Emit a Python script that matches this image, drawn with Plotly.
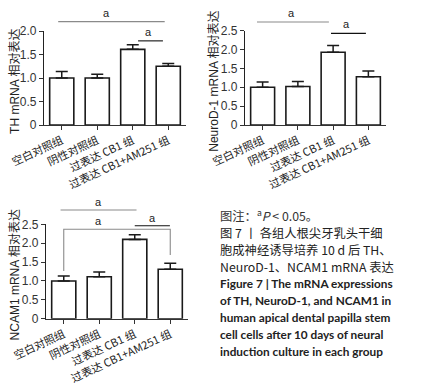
import plotly.graph_objects as go

W, H = 430, 391

# ---------------- data ----------------
groups = ["空白对照组", "阴性对照组", "过表达 CB1 组", "过表达 CB1+AM251 组"]

th_mean = [1.00, 1.00, 1.61, 1.25]
th_err = [0.14, 0.08, 0.10, 0.06]

neurod_mean = [1.00, 1.02, 1.93, 1.28]
neurod_err = [0.14, 0.13, 0.18, 0.15]

ncam_mean = [1.00, 1.11, 2.10, 1.31]
ncam_err = [0.13, 0.13, 0.12, 0.16]

th_ticks = [0, 0.5, 1.0, 1.5, 2.0]
th_ticktext = ["0", "0.5", "1.0", "1.5", "2.0"]
big_ticks = [0, 0.5, 1.0, 1.5, 2.0, 2.5]
big_ticktext = ["0", "0.5", "1.0", "1.5", "2.0", "2.5"]

th_title = "TH mRNA 相对表达"
neurod_title = "NeuroD-1 mRNA 相对表达"
ncam_title = "NCAM1 mRNA 相对表达"

caption_cn = [
    "图注：<sup>a</sup><i>P</i> &lt; 0.05。",
    "图 7 丨 各组人根尖牙乳头干细",
    "胞成神经诱导培养 10 d 后 TH、",
    "NeuroD-1、NCAM1 mRNA 表达",
]
caption_en = [
    "Figure 7 | The mRNA expressions",
    "of TH, NeuroD-1, and NCAM1 in",
    "human apical dental papilla stem",
    "cell cells after 10 days of neural",
    "induction culture in each group",
]

# significance marks: (x0, x1, y, colour) in category/value units
th_sig = [(-0.1, 2.9, 2.20, "#8a8a8a"), (2.15, 2.85, 1.79, "#111111")]
th_sig_lbl = [(1.25, 2.38), (2.43, 1.98)]
neurod_sig = [(-0.16, 1.88, 2.73, "#8a8a8a"), (1.94, 2.93, 2.43, "#111111")]
neurod_sig_lbl = [(0.83, 2.97), (2.39, 2.67)]
ncam_sig = [(-0.09, 2.05, 2.88, "#8a8a8a"), (2.0, 2.99, 2.46, "#111111")]
ncam_sig_lbl = [(0.99, 3.09), (0.99, 2.59), (2.49, 2.68)]
ncam_bracket = [(0.0, 1.26), (0.0, 2.37), (3.0, 2.37), (3.0, 1.69)]

# ---------------- layout helpers ----------------
FONT = "Liberation Sans, Noto Sans CJK SC, sans-serif"
CJK = "Noto Sans CJK SC, sans-serif"


def px_x(p):
    return p / W


def px_y(p):
    return 1 - p / H


panels = [
    ("", (44, 186), (125, 31), th_mean, th_err, 2.0, th_ticks, th_ticktext,
     th_title, 15, th_sig, th_sig_lbl),
    ("2", (245, 386), (125, 30.7), neurod_mean, neurod_err, 2.5, big_ticks,
     big_ticktext, neurod_title, 214, neurod_sig, neurod_sig_lbl),
    ("3", (46, 188), (318.7, 224.3), ncam_mean, ncam_err, 2.5, big_ticks,
     big_ticktext, ncam_title, 15, ncam_sig, ncam_sig_lbl),
]

fig = go.Figure()
shapes = []
annotations = []


def cat_dom(i):
    return (i + 0.5) / 4.0


for (sfx, xr, yr, mean, err, ymax, tv, tt, title, title_x, sig, sig_lbl) in panels:
    xa = "x" + sfx
    ya = "y" + sfx
    fig.add_trace(go.Bar(
        x=groups, y=mean, width=0.68,
        marker=dict(color="white", line=dict(color="#1a1a1a", width=1.6)),
        error_y=dict(type="data", symmetric=False, array=err,
                     arrayminus=[0] * len(err), thickness=1.5, width=6,
                     color="#1a1a1a"),
        xaxis=xa, yaxis=ya, showlegend=False, hoverinfo="skip",
    ))
    fig.layout["xaxis" + sfx] = dict(
        domain=[px_x(xr[0]), px_x(xr[1])], anchor=ya,
        type="category", range=[-0.5, 3.5], automargin=False,
        showline=True, linecolor="#333", linewidth=1.2,
        ticks="outside", ticklen=4, tickcolor="#333", tickwidth=1.2,
        tickangle=-25, tickfont=dict(family=CJK, size=11, color="#222"),
        showgrid=False, zeroline=False, fixedrange=True,
    )
    fig.layout["yaxis" + sfx] = dict(
        domain=[px_y(yr[0]), px_y(yr[1])], anchor=xa,
        range=[0, ymax], tickvals=tv, ticktext=tt, automargin=False,
        showline=True, linecolor="#222", linewidth=1.2,
        ticks="outside", ticklen=4, tickcolor="#333", tickwidth=1.2,
        tickfont=dict(family=FONT, size=12, color="#333"),
        showgrid=False, zeroline=False, fixedrange=True,
    )
    annotations.append(dict(
        text=title, xref="paper", yref="paper",
        x=px_x(title_x), y=(px_y(yr[0]) + px_y(yr[1])) / 2 - 0.01,
        textangle=-90, showarrow=False, xanchor="center", yanchor="middle",
        font=dict(family=FONT, size=12, color="#222"),
    ))
    for (x0, x1, yv, col) in sig:
        shapes.append(dict(
            type="line", xref=xa + " domain", yref=ya + " domain",
            x0=cat_dom(x0), x1=cat_dom(x1), y0=yv / ymax, y1=yv / ymax,
            line=dict(color=col, width=1.1),
        ))
    for (xl, yl) in sig_lbl:
        annotations.append(dict(
            text="a", xref=xa + " domain", yref=ya + " domain",
            x=cat_dom(xl), y=yl / ymax, showarrow=False,
            xanchor="center", yanchor="middle",
            font=dict(family=FONT, size=11, color="#222"),
        ))
    if sfx == "3":
        path = ""
        for k, (bx, by) in enumerate(ncam_bracket):
            path += ("M" if k == 0 else "L") + f"{cat_dom(bx)},{by / ymax}"
        shapes.append(dict(
            type="path", xref=xa + " domain", yref=ya + " domain",
            path=path, line=dict(color="#8a8a8a", width=1.1),
        ))

# caption: one multi-line annotation (line spacing = 1.3 * base size)
cap_step = 16.8
base = cap_step / 1.3
parts = []
for k, line in enumerate(caption_cn):
    col = "#333" if k == 0 else "#222"
    parts.append(f'<span style="font-size:12.3px;color:{col}">{line}</span>')
for line in caption_en:
    parts.append('<span style="font-family:Lato, Liberation Sans, sans-serif;'
                 f'font-size:11.8px;font-weight:bold">{line}</span>')
n_lines = len(parts)
first_y = 215.0
center_y = first_y + (n_lines - 1) * cap_step / 2
annotations.append(dict(
    text="<br>".join(parts), xref="paper", yref="paper",
    x=px_x(218), y=px_y(center_y), xanchor="left", yanchor="middle",
    align="left", showarrow=False,
    font=dict(family=CJK, size=base, color="#222"),
))

fig.update_layout(
    width=W, height=H,
    margin=dict(l=0, r=0, t=0, b=0, autoexpand=False),
    paper_bgcolor="white", plot_bgcolor="white",
    shapes=shapes, annotations=annotations,
)

fig.write_html("out.html", config={"displayModeBar": False},
               post_script="document.body.style.margin='0';"
                           "document.body.style.overflow='hidden';")
